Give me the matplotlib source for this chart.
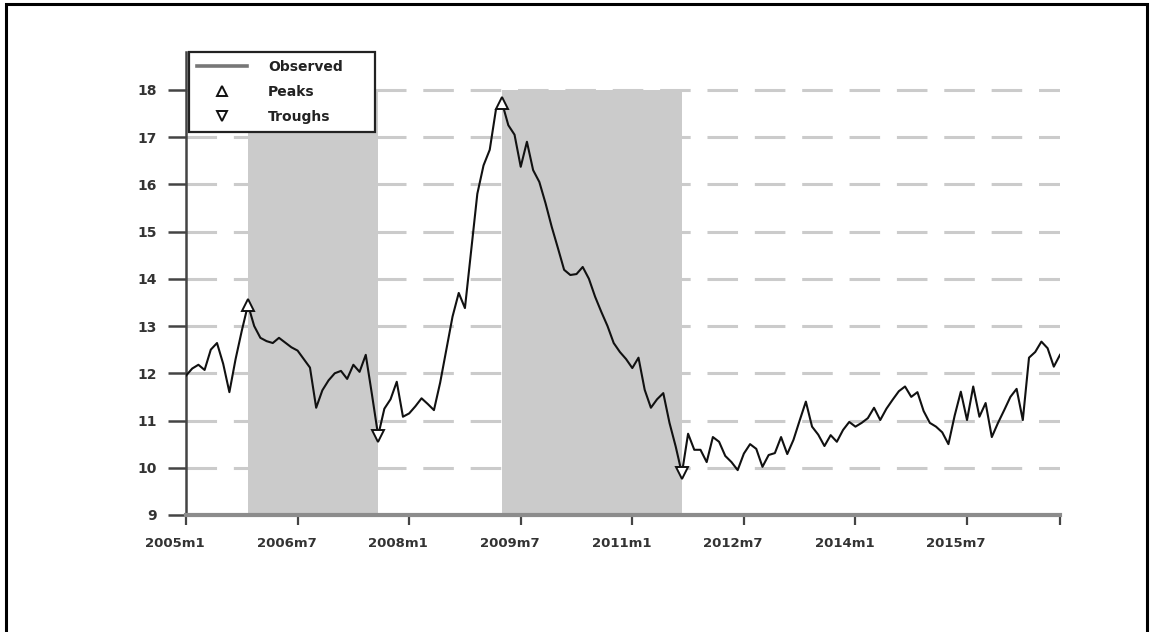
import matplotlib
matplotlib.use("Agg")
import matplotlib.pyplot as plt
import matplotlib.transforms as mtransforms
from matplotlib.lines import Line2D
from matplotlib.patches import Rectangle

# Monthly observations, 2005m1 .. 2016m10 (index 0 = 2005m1)
values = [
    11.95, 12.10, 12.18, 12.07, 12.50, 12.64, 12.20, 11.60, 12.30, 12.90,  # 2005m1-m10
    13.45, 13.00, 12.75, 12.68, 12.64, 12.75, 12.65, 12.55, 12.48, 12.30,  # ..2006m8
    12.12, 11.27, 11.64, 11.85, 12.00, 12.05, 11.88, 12.18, 12.03, 12.39,  # ..2007m6
    11.55, 10.68, 11.25, 11.45, 11.82, 11.08, 11.15, 11.30, 11.47, 11.35,  # ..2008m4
    11.22, 11.80, 12.50, 13.20, 13.70, 13.38, 14.60, 15.80, 16.40, 16.73,  # ..2009m2
    17.58, 17.72, 17.25, 17.05, 16.37, 16.90, 16.30, 16.05, 15.60, 15.10,  # ..2009m12
    14.65, 14.19, 14.08, 14.10, 14.25, 14.00, 13.62, 13.30, 13.00, 12.64,  # ..2010m10
    12.45, 12.30, 12.11, 12.33, 11.65, 11.27, 11.45, 11.58, 10.95, 10.45,  # ..2011m8
    9.88, 10.72, 10.38, 10.38, 10.12, 10.65, 10.55, 10.25, 10.12, 9.95,    # ..2012m6
    10.30, 10.50, 10.40, 10.02, 10.27, 10.31, 10.65, 10.29, 10.59, 11.00,  # ..2013m4
    11.40, 10.87, 10.70, 10.46, 10.69, 10.55, 10.80, 10.97, 10.87, 10.95,  # ..2014m2
    11.05, 11.27, 11.01, 11.25, 11.44, 11.62, 11.72, 11.50, 11.60, 11.20,  # ..2014m12
    10.95, 10.87, 10.75, 10.50, 11.10, 11.61, 11.01, 11.72, 11.08, 11.37,  # ..2015m10
    10.65, 10.95, 11.22, 11.50, 11.67, 11.01, 12.33, 12.45, 12.67, 12.53,  # ..2016m8
    12.14, 12.39,                                                          # ..2016m10
]
peak_idx = [10, 51]
trough_idx = [31, 80]
tick_pos = [0, 18, 36, 54, 72, 90, 108, 126]
tick_labels = ["2005m1", "2006m7", "2008m1", "2009m7", "2011m1", "2012m7", "2014m1", "2015m7"]
y_ticks = [9, 10, 11, 12, 13, 14, 15, 16, 17, 18]
legend_labels = ["Observed", "Peaks", "Troughs"]

W, H = 1150, 632
fig = plt.figure(figsize=(W / 100, H / 100), dpi=100)
fig.patch.set_facecolor("white")

left, right, bottom, top = 186, 1060, 515, 52
ax = fig.add_axes([left / W, 1 - bottom / H, (right - left) / W, (bottom - top) / H])

x = list(range(len(values)))
ax.set_xlim(0, len(values) - 1)
ax.set_ylim(9, 18.8)

# grid
for yv in y_ticks[1:]:
    ax.axhline(yv, color="#cbcbcb", lw=2.2, linestyle=(0, (10, 5.5)), zorder=1)

# shaded peak-to-trough phases
for p, t in zip(peak_idx, trough_idx):
    ax.fill_between([p, t], 9, 18, color="#cbcbcb", lw=0, zorder=2)

ax.plot(x, values, color="#111111", lw=1.5, zorder=3)
ax.plot(peak_idx, [values[i] for i in peak_idx], linestyle="none", marker="^",
        ms=8, mfc="white", mec="#111111", mew=1.4, zorder=4)
ax.plot(trough_idx, [values[i] for i in trough_idx], linestyle="none", marker="v",
        ms=8, mfc="white", mec="#111111", mew=1.4, zorder=4)

# axes styling
for s in ["top", "right"]:
    ax.spines[s].set_visible(False)
ax.spines["left"].set_color("#444444")
ax.spines["left"].set_linewidth(1.8)
ax.spines["bottom"].set_color("#8c8c8c")
ax.spines["bottom"].set_linewidth(3.0)

ax.set_yticks(y_ticks)
ax.set_yticklabels([str(v) for v in y_ticks])
ax.set_xticks(tick_pos + [len(values) - 1])
ax.set_xticklabels(tick_labels + [""])

ax.tick_params(axis="y", length=13, width=1.8, color="#444444", pad=8,
               labelsize=10, labelcolor="#333333")
ax.tick_params(axis="x", length=7, width=1.6, color="#444444", pad=9,
               labelsize=9.5, labelcolor="#333333")
for lab in ax.get_yticklabels() + ax.get_xticklabels():
    lab.set_fontweight("bold")
    lab.set_fontfamily("DejaVu Sans")

offset = mtransforms.ScaledTranslation(-11 / 100, 0, fig.dpi_scale_trans)
for lab in ax.get_xticklabels():
    lab.set_transform(lab.get_transform() + offset)

handles = [
    Line2D([], [], color="#777777", lw=2.6),
    Line2D([], [], linestyle="none", marker="^", ms=7, mfc="white", mec="#111111", mew=1.4),
    Line2D([], [], linestyle="none", marker="v", ms=7, mfc="white", mec="#111111", mew=1.4),
]
leg = ax.legend(handles, legend_labels, loc="upper left", mode="expand",
                bbox_to_anchor=(189 / W, 1 - 134 / H, 186 / W, 82 / H),
                bbox_transform=fig.transFigure,
                fancybox=False, framealpha=1, edgecolor="#222222",
                prop={"family": "DejaVu Sans", "weight": "bold", "size": 10},
                handlelength=3.6, handletextpad=1.5, borderpad=0.6, labelspacing=0.78,
                borderaxespad=0)
leg.get_frame().set_linewidth(1.6)
leg.set_zorder(10)
for t in leg.get_texts():
    t.set_color("#222222")

# outer frame
fig.add_artist(Rectangle((5.5 / W, -0.05), (1147 - 5.5) / W, 1.05 - 4 / H,
                         transform=fig.transFigure, fill=False, edgecolor="black", lw=2.2))

fig.savefig("out.png", dpi=100)
